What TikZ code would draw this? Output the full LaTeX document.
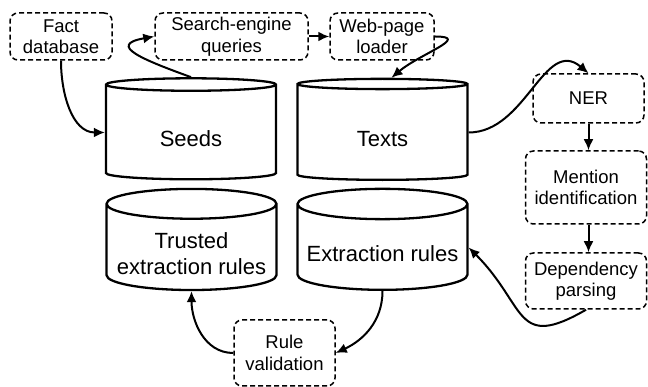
\documentclass[tikz,border=0pt]{standalone}
\usepackage{fontspec}
\setmainfont{Liberation Sans}
\usetikzlibrary{shapes.geometric, arrows.meta}

\begin{document}
\begin{tikzpicture}[x=1pt, y=1pt,
    task/.style={draw, dashed, dash pattern=on 5pt off 3pt, rounded corners=8pt,
                 line width=1.5pt, align=center, inner sep=0pt,
                 font=\fontsize{18.5}{21.5}\selectfont},
    store/.style={cylinder, shape border rotate=90, draw, line width=2.3pt,
                  aspect=0.2, minimum width=170pt, minimum height=101pt,
                  align=center, inner sep=0pt, text height=29pt,
                  font=\fontsize{22}{26.5}\selectfont},
    flow/.style={line width=2pt, -{Latex[length=11pt, width=10pt]}}]
\useasboundingbox (0, 0) rectangle (648, 387);
        % Draw the processing steps
        \node[task, minimum width=102, minimum height=47] at (61, 350.5)    (fact)     {Fact\\database};
        \node[task, minimum width=153, minimum height=47] at (231.5, 350.5) (search)   {Search-engine\\queries};
        \node[task, minimum width=104, minimum height=47] at (382, 350.5)   (loader)   {Web-page\\loader};
        \node[task, minimum width=111, minimum height=49] at (588.5, 288.5) (ner)      {NER};
        \node[task, minimum width=121, minimum height=73] at (586, 199.5)   (mention)  {Mention\\identification};
        \node[task, minimum width=121, minimum height=56] at (586, 106)     (dep)      {Dependency\\parsing};
        \node[task, minimum width=101, minimum height=66] at (284.5, 34)    (ruleval)  {Rule\\validation};
        % Draw the data stores
        \node[store] at (191, 254.5)   (seeds)      {Seeds};
        \node[store] at (382.5, 254.5) (texts)      {Texts};
        \node[store, text height=55pt] at (191.5, 139.5) (trusted) {Trusted\\extraction rules};
        \node[store] at (382.5, 139.5) (extraction) {Extraction rules};
        % Connect them
        \draw[flow] (fact.south)       to[out=-90, in=180]                 (seeds.west);
        \draw[flow] (seeds.north)      to[out=160, in=190, looseness=2.3]  (search.west);
        \draw[flow] (search.east)      --                                  (loader.west);
        \draw[flow] (loader.east)      to[out=0, in=40, looseness=1.6]     ([xshift=9pt]texts.north);
        \draw[flow] (texts.east)       to[out=0, in=140, looseness=1.1]    (ner.north);
        \draw[flow] (ner.south)        --                                  (ner.south |- mention.north);
        \draw[flow] (mention.south -| ner.south) --                        (ner.south |- dep.north);
        \draw[flow] (dep.south)        to[out=-150, in=-45, looseness=1.6] (extraction.east);
        \draw[flow] (extraction.south) to[out=-90, in=25]                  (ruleval.east);
        \draw[flow] (ruleval.west)     to[out=180, in=-90]                 (trusted.south);
\end{tikzpicture}
\end{document}
